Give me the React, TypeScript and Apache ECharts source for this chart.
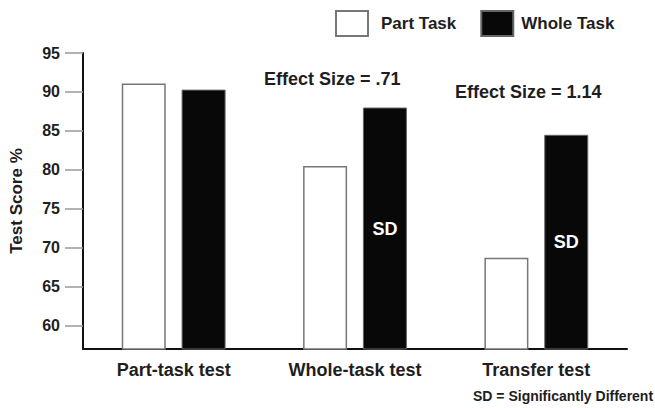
import React, { useEffect, useRef } from "react";
import * as echarts from "echarts";

const categories = ["Part-task test", "Whole-task test", "Transfer test"];
const partTask = [91.1, 80.5, 68.7];
const wholeTask = [90.3, 88.0, 84.5];
const sdFlags = [false, true, true];
const yTicks = [60, 65, 70, 75, 80, 85, 90, 95];
const effectSizes = ["Effect Size = .71", "Effect Size = 1.14"];
const footnote = "SD = Significantly Different";

const FONT = "'Liberation Sans', Arial, sans-serif";
const TXT = "#1e1e1e";

export default function App() {
  const ref = useRef<HTMLDivElement>(null);
  useEffect(() => {
    if (!ref.current) return;
    const chart = echarts.init(ref.current, null, { renderer: "svg" });
    chart.setOption({
      animation: false,
      backgroundColor: "#fff",
      textStyle: { fontFamily: FONT },
      grid: { left: 77, right: 28, top: 53, bottom: 59 },
      legend: {
        left: 335,
        top: 10,
        padding: 0,
        itemWidth: 32,
        itemHeight: 25,
        itemGap: 24,
        icon: "rect",
        textStyle: { fontFamily: FONT, fontSize: 17, fontWeight: "bold", color: TXT },
        data: [
          { name: "Part Task", textStyle: { padding: [5, 0, 0, 8] } },
          { name: "Whole Task", textStyle: { padding: [0, 0, 6, 3] } },
        ],
      },
      xAxis: {
        type: "category",
        data: categories,
        axisLine: { lineStyle: { color: "#111", width: 2 } },
        axisTick: { show: false },
        axisLabel: { margin: 12, fontSize: 18, fontWeight: "bold", color: TXT, fontFamily: FONT },
      },
      yAxis: {
        type: "value",
        min: 57,
        max: 95,
        name: "Test Score %",
        nameLocation: "middle",
        nameGap: 58,
        nameRotate: 90,
        nameTextStyle: { fontSize: 17, fontWeight: "bold", color: TXT, fontFamily: FONT },
        axisLine: { show: true, lineStyle: { color: "#111", width: 2 } },
        axisTick: { show: true, length: 18, customValues: yTicks, lineStyle: { color: "#999", width: 1.5 } },
        axisLabel: { customValues: yTicks, margin: 23, fontSize: 16, fontWeight: "bold", color: TXT, fontFamily: FONT },
        splitLine: { show: false },
      },
      series: [
        {
          name: "Part Task",
          type: "bar",
          barWidth: 44,
          barGap: "36%",
          data: partTask,
          itemStyle: { color: "#ffffff", borderColor: "#777", borderWidth: 1.5 },
        },
        {
          name: "Whole Task",
          type: "bar",
          barWidth: 44,
          data: wholeTask.map((v, i) => ({
            value: v,
            label: {
              show: sdFlags[i],
              position: "inside",
              formatter: "SD",
              color: "#fff",
              fontSize: 18,
              fontWeight: "bold",
              fontFamily: FONT,
            },
          })),
          itemStyle: { color: "#080808", borderColor: "#666", borderWidth: 1 },
        },
      ],
      graphic: [
        {
          type: "text",
          left: 264,
          top: 70,
          style: { text: effectSizes[0], fontSize: 18, fontWeight: "bold", fill: TXT, fontFamily: FONT },
        },
        {
          type: "text",
          left: 455,
          top: 83,
          style: { text: effectSizes[1], fontSize: 18, fontWeight: "bold", fill: TXT, fontFamily: FONT },
        },
        {
          type: "text",
          left: 473,
          top: 389,
          style: { text: footnote, fontSize: 14, fontWeight: "bold", fill: TXT, fontFamily: FONT },
        },
      ],
    });
    return () => chart.dispose();
  }, []);
  return <div ref={ref} style={{ width: 655, height: 408, position: "absolute", left: 0, top: 0 }} />;
}
